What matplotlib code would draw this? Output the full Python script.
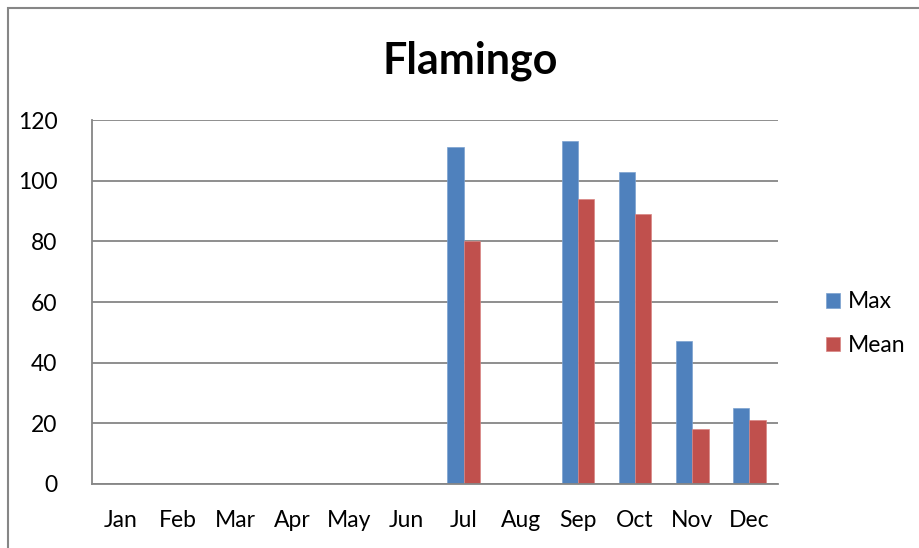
import matplotlib
matplotlib.use("Agg")
import matplotlib.pyplot as plt
import numpy as np
from matplotlib.patches import Rectangle

months = ["Jan", "Feb", "Mar", "Apr", "May", "Jun", "Jul", "Aug", "Sep", "Oct", "Nov", "Dec"]
max_vals = [0, 0, 0, 0, 0, 0, 111, 0, 113, 103, 47, 25]
mean_vals = [0, 0, 0, 0, 0, 0, 80, 0, 94, 89, 18, 21]
yticks = [0, 20, 40, 60, 80, 100, 120]

plt.rcParams['font.family'] = ['Lato', 'DejaVu Sans']

fig = plt.figure(figsize=(9.2, 5.48), dpi=100)
fig.patch.set_facecolor("white")
# outer chart border
fig.add_artist(Rectangle((8/920, -0.05), 1.2, (548-8)/548 + 0.05, transform=fig.transFigure,
                         fill=False, edgecolor="#868686", linewidth=1.5))

ax = fig.add_axes([92/920, 1-484/548, (778-92)/920, (484-120)/548])
x = np.arange(len(months))
w = 0.285
ax.bar(x - w/2, max_vals, width=w, color="#4F81BD", label="Max", edgecolor="#7BA1D0", linewidth=0.5)
ax.bar(x + w/2, mean_vals, width=w, color="#C0504D", label="Mean", edgecolor="#D88583", linewidth=0.5)

ax.set_xlim(-0.5, 11.5)
ax.set_ylim(0, 120)
ax.set_yticks(yticks)
ax.set_xticks(x)
ax.set_xticklabels(months)
ax.yaxis.grid(True, color="#868686", linewidth=1.3)
ax.set_axisbelow(True)
for s in ["top", "right"]:
    ax.spines[s].set_visible(False)
for s in ["left", "bottom"]:
    ax.spines[s].set_color("#868686")
    ax.spines[s].set_linewidth(1.3)
ax.tick_params(axis="both", length=0, labelsize=16.5, colors="black")
ax.tick_params(axis="y", pad=25)
ax.tick_params(axis="x", pad=19)

fig.text(470/920, 1-61/548, "Flamingo", ha="center", va="center", fontsize=31, fontweight="bold")

leg = ax.legend(loc="center left", bbox_to_anchor=(1.04, 0.44), frameon=False, fontsize=16.5,
                handlelength=0.6, handleheight=0.6, handletextpad=0.35, labelspacing=1.0)

fig.savefig("out.png", dpi=100)
